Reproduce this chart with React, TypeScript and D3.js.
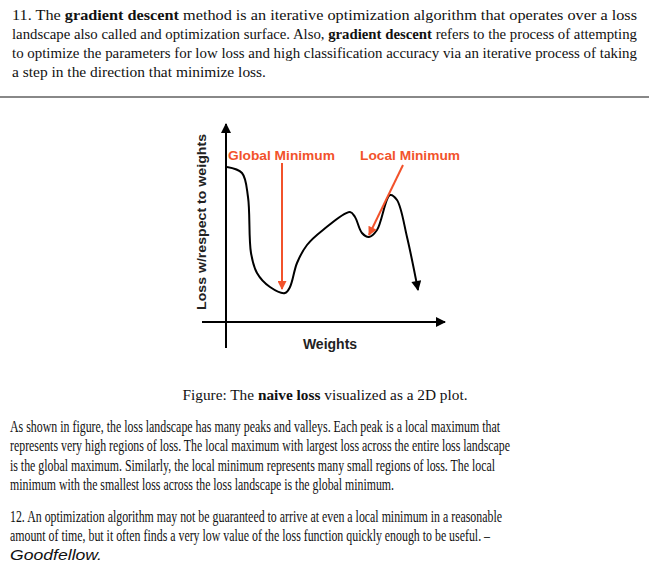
import React from "react";
import * as d3 from "d3";

// curve (weights 0..100, loss 0..100)
const curveW = [0, 7.5, 10.5, 12, 15, 21.5, 29, 31.5, 35, 40, 48, 61.5, 64, 67.5, 71, 75, 81.5, 85, 90, 95.5];
const curveL = [77.5, 74.5, 62.5, 34.5, 24.5, 17.5, 14.5, 17.5, 29.5, 38.5, 46, 55, 52.5, 44.5, 42.5, 46, 63.5, 61, 42.5, 16];
const labels = ["Global Minimum", "Local Minimum"];
const yLabel = "Loss w/respect to weights";
const xLabel = "Weights";

const x = d3.scaleLinear().domain([0, 100]).range([227, 427]);
const y = d3.scaleLinear().domain([0, 100]).range([322, 122]);

type Seg = [string, boolean?, boolean?];
const para: { y: number; len?: number; x?: number; fs: number; segs: Seg[] }[] = [
  { y: 20, len: 625, x: 12, fs: 14.5, segs: [["11. The "], ["gradient descent", true], [" method is an iterative optimization algorithm that operates over a loss"]] },
  { y: 39, len: 625, x: 12, fs: 14.5, segs: [["landscape also called and optimization surface. Also, "], ["gradient descent", true], [" refers to the process of attempting"]] },
  { y: 58, len: 625, x: 12, fs: 14.5, segs: [["to optimize the parameters for low loss and high classification accuracy via an iterative process of taking"]] },
  { y: 77, len: 254, x: 12, fs: 14.5, segs: [["a step in the direction that minimize loss."]] },
  { y: 432, len: 490, x: 10, fs: 16, segs: [["As shown in figure, the loss landscape has many peaks and valleys. Each peak is a local maximum that"]] },
  { y: 451, len: 500, x: 10, fs: 16, segs: [["represents very high regions of loss. The local maximum with largest loss across the entire loss landscape"]] },
  { y: 471, len: 485, x: 10, fs: 16, segs: [["is the global maximum. Similarly, the local minimum represents many small regions of loss. The local"]] },
  { y: 490, len: 384, x: 10, fs: 16, segs: [["minimum with the smallest loss across the loss landscape is the global minimum."]] },
  { y: 522, len: 492, x: 10, fs: 16, segs: [["12. An optimization algorithm may not be guaranteed to arrive at even a local minimum in a reasonable"]] },
  { y: 541, len: 480, x: 10, fs: 16, segs: [["amount of time, but it often finds a very low value of the loss function quickly enough to be useful. \u2013"]] },
];

export default function App() {
  const line = d3.line<number>().x((_, i) => x(curveW[i])).y((d) => y(d)).curve(d3.curveCatmullRom.alpha(0.5));
  const red = "#f2522b";
  const sans = "Liberation Sans, Arial, sans-serif";
  return (
    <svg width={649} height={570} style={{ position: "absolute", left: 0, top: 0, background: "#fff" }}>
      <defs>
        <marker id="ak2" viewBox="0 0 10 10" refX="9" refY="5" markerWidth="12" markerHeight="10" orient="auto" markerUnits="userSpaceOnUse">
          <path d="M0,0L10,5L0,10z" fill="#000" />
        </marker>
        <marker id="ar" viewBox="0 0 10 10" refX="9" refY="5" markerWidth="12" markerHeight="9" orient="auto" markerUnits="userSpaceOnUse">
          <path d="M0,0L10,5L0,10z" fill={red} />
        </marker>
      </defs>
      {para.map((p, i) => (
        <text key={i} x={p.x} y={p.y} fontFamily="Liberation Serif, Times New Roman, serif" fontSize={p.fs} textLength={p.len} lengthAdjust="spacingAndGlyphs" fill="#111">
          {p.segs.map((s, j) => (
            <tspan key={j} fontWeight={s[1] ? "bold" : "normal"}>{s[0]}</tspan>
          ))}
        </text>
      ))}
      <text x={10} y={560} fontFamily={sans} fontStyle="italic" fontSize={14} fill="#111" textLength={92} lengthAdjust="spacingAndGlyphs">Goodfellow.</text>
      <line x1={0} x2={649} y1={97} y2={97} stroke="#888" strokeWidth={2} />
      <text x={325} y={400} textAnchor="middle" fontFamily="Liberation Serif, Times New Roman, serif" fontSize={15} fill="#111" textLength={285} lengthAdjust="spacingAndGlyphs">
        Figure: The <tspan fontWeight="bold">naive loss</tspan> visualized as a 2D plot.
      </text>
      <line x1={x(-0.5)} x2={x(-0.5)} y1={348} y2={124} stroke="#000" strokeWidth={2} markerEnd="url(#ak2)" />
      <line x1={202} x2={445} y1={y(0)} y2={y(0)} stroke="#000" strokeWidth={2} markerEnd="url(#ak2)" />
      <path d={line(curveL) || ""} fill="none" stroke="#000" strokeWidth={2} markerEnd="url(#ak2)" />
      <line x1={282} x2={282} y1={163} y2={289} stroke={red} strokeWidth={2} markerEnd="url(#ar)" />
      <line x1={403} x2={369} y1={165} y2={235} stroke={red} strokeWidth={2} markerEnd="url(#ar)" />
      <text x={228} y={160} fontFamily={sans} fontWeight="bold" fontSize={13.5} fill={red} textLength={107} lengthAdjust="spacingAndGlyphs">{labels[0]}</text>
      <text x={360} y={160} fontFamily={sans} fontWeight="bold" fontSize={13.5} fill={red} textLength={100} lengthAdjust="spacingAndGlyphs">{labels[1]}</text>
      <text transform="translate(206,222) rotate(-90)" textAnchor="middle" fontFamily={sans} fontWeight="bold" fontSize={13.5} fill="#222" textLength={176} lengthAdjust="spacingAndGlyphs">{yLabel}</text>
      <text x={330} y={349} textAnchor="middle" fontFamily={sans} fontWeight="bold" fontSize={14} fill="#222">{xLabel}</text>
    </svg>
  );
}
